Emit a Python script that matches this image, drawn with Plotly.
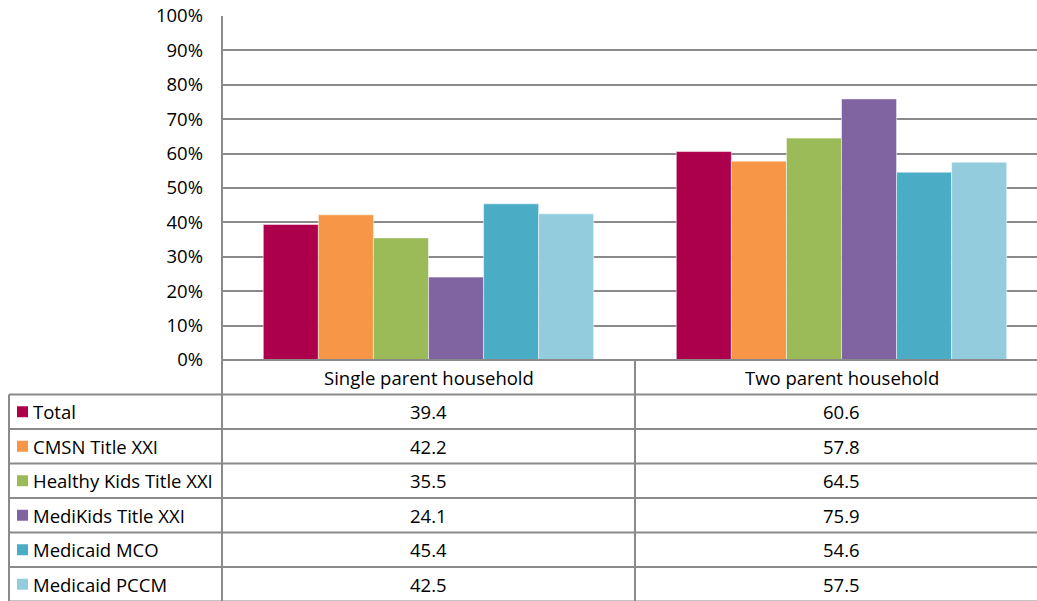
import plotly.graph_objects as go

categories = ["Single parent household", "Two parent household"]
series_names = ["Total", "CMSN Title XXI", "Healthy Kids Title XXI",
                "MediKids Title XXI", "Medicaid MCO", "Medicaid PCCM"]
total = [39.4, 60.6]
cmsn = [42.2, 57.8]
healthy_kids = [35.5, 64.5]
medikids = [24.1, 75.9]
medicaid_mco = [45.4, 54.6]
medicaid_pccm = [42.5, 57.5]
y_ticks = [0, 10, 20, 30, 40, 50, 60, 70, 80, 90, 100]

series_values = [total, cmsn, healthy_kids, medikids, medicaid_mco, medicaid_pccm]
colors = ["#AC004D", "#F79646", "#9BBB59", "#8064A2", "#4BACC6", "#93CDDD"]

W, H = 1037, 601
L, T, B = 222, 16, 241
PW = W - L
PH = H - T - B
FONT = "Open Sans"
FS = 18.5
LINE = "#8A8A8A"
CAT_PX = 413  # pixel width of one category band
X_RANGE = [-0.5, -0.5 + PW / CAT_PX]


def px_x(x):
    return (x - L) / PW


def px_y(y):
    return (H - B - y) / PH


fig = go.Figure()
for name, vals, col in zip(series_names, series_values, colors):
    fig.add_trace(go.Bar(
        x=list(range(len(categories))), y=vals, name=name,
        marker=dict(color=col, line=dict(color="white", width=0.5)),
        showlegend=False,
    ))

shapes = []
annotations = []

row_h = 34.5
top0 = H - B  # 360
rows_y = [top0 + i * row_h for i in range(8)]
col_div = L + CAT_PX
left_tab = 9

for i, yy in enumerate(rows_y):
    x0 = L if i == 0 else left_tab
    shapes.append(dict(type="line", xref="paper", yref="paper",
                       x0=px_x(x0), x1=1.0, y0=px_y(yy), y1=px_y(yy),
                       line=dict(color=LINE, width=2), layer="above"))
shapes.append(dict(type="line", xref="paper", yref="paper",
                   x0=px_x(left_tab), x1=px_x(left_tab),
                   y0=px_y(rows_y[1]), y1=px_y(rows_y[-1]),
                   line=dict(color=LINE, width=2), layer="above"))
shapes.append(dict(type="line", xref="paper", yref="paper",
                   x0=0, x1=0, y0=1, y1=px_y(rows_y[-1]),
                   line=dict(color=LINE, width=2), layer="above"))
shapes.append(dict(type="line", xref="paper", yref="paper",
                   x0=px_x(col_div), x1=px_x(col_div),
                   y0=px_y(rows_y[0]), y1=px_y(rows_y[-1]),
                   line=dict(color=LINE, width=2), layer="above"))

col_x = list(range(len(categories)))

for c, cx in zip(categories, col_x):
    annotations.append(dict(xref="x", yref="paper", x=cx,
                            y=px_y(rows_y[0] + row_h / 2), text=c,
                            showarrow=False, xanchor="center", yanchor="middle",
                            font=dict(family=FONT, size=FS, color="black")))

for i, (name, vals, col) in enumerate(zip(series_names, series_values, colors)):
    yc = rows_y[i + 1] + row_h / 2
    shapes.append(dict(type="rect", xref="paper", yref="paper",
                       x0=px_x(17), x1=px_x(28), y0=px_y(yc - 5.5), y1=px_y(yc + 5.5),
                       fillcolor=col, line=dict(width=0), layer="above"))
    annotations.append(dict(xref="paper", yref="paper", x=px_x(31), y=px_y(yc),
                            text=name, showarrow=False, xanchor="left", yanchor="middle",
                            font=dict(family=FONT, size=FS, color="black")))
    for v, cx in zip(vals, col_x):
        annotations.append(dict(xref="x", yref="paper", x=cx, y=px_y(yc),
                                text=f"{v:.1f}", showarrow=False,
                                xanchor="center", yanchor="middle",
                                font=dict(family=FONT, size=FS, color="black")))

fig.update_layout(
    width=W, height=H,
    margin=dict(l=L, r=0, t=T, b=B, pad=0),
    paper_bgcolor="white", plot_bgcolor="white",
    barmode="group", bargap=0.2, bargroupgap=0,
    font=dict(family=FONT, size=FS, color="black"),
    shapes=shapes, annotations=annotations,
    xaxis=dict(range=X_RANGE, showticklabels=False, showline=False, showgrid=False,
               zeroline=False, ticks=""),
    yaxis=dict(range=[0, 100], tickvals=y_ticks,
               ticktext=[f"{t}%" for t in y_ticks],
               showgrid=True, gridcolor=LINE, gridwidth=2,
               zeroline=False, showline=False, ticks="",
               ticklabelstandoff=18,
               tickfont=dict(family=FONT, size=FS, color="black")),
)

fig.write_html("out.html")
